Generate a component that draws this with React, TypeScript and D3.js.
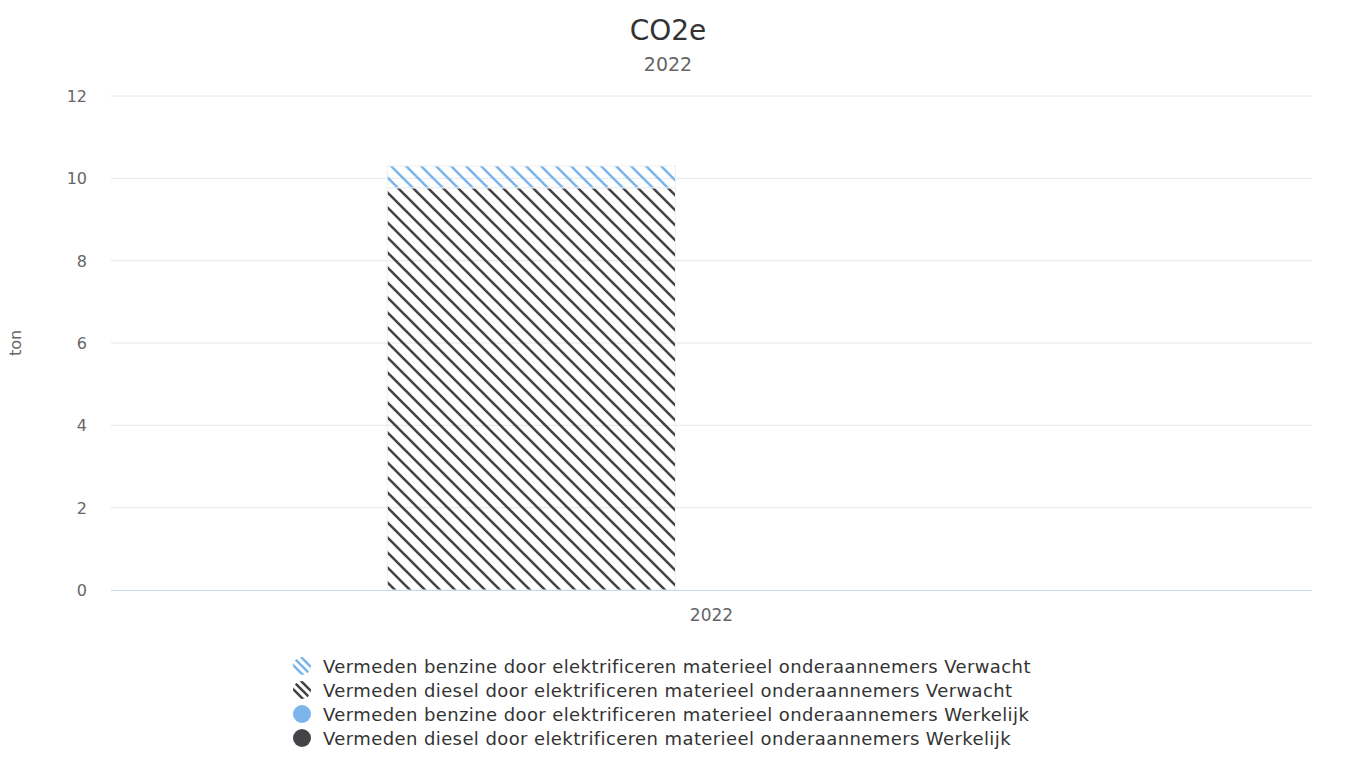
import React from "react";
import * as d3 from "d3";

const categories = ["2022"];
const stacks = ["Verwacht", "Werkelijk"];
const seriesNames = [
  "Vermeden benzine door elektrificeren materieel onderaannemers Verwacht",
  "Vermeden diesel door elektrificeren materieel onderaannemers Verwacht",
  "Vermeden benzine door elektrificeren materieel onderaannemers Werkelijk",
  "Vermeden diesel door elektrificeren materieel onderaannemers Werkelijk",
];
const seriesStack = ["Verwacht", "Verwacht", "Werkelijk", "Werkelijk"];
const seriesColor = ["#7cb5ec", "#434348", "#7cb5ec", "#434348"];
const seriesHatched = [true, true, false, false];
// values per category (2022)
const benzineVerwacht = [0.53];
const dieselVerwacht = [9.77];
const benzineWerkelijk = [0];
const dieselWerkelijk = [0];
const seriesValues = [benzineVerwacht, dieselVerwacht, benzineWerkelijk, dieselWerkelijk];
const yTicks = [0, 2, 4, 6, 8, 10, 12];

const W = 1360;
const H = 758;
const FONT = "'DejaVu Sans', Verdana, sans-serif";

export default function App() {
  const left = 111, right = 1312, top = 96, bottom = 590;
  const x = d3.scaleBand<string>().domain(categories).range([left, right]).paddingInner(0).paddingOuter(0);
  const y = d3.scaleLinear().domain([0, 12]).range([bottom, top]);
  const groupPad = 0.2;
  const inner = d3.scaleBand<string>().domain(stacks)
    .range([0, x.bandwidth() * (1 - 2 * groupPad)]).paddingInner(0.2).paddingOuter(0.1);

  const bars: JSX.Element[] = [];
  categories.forEach((cat, ci) => {
    stacks.forEach((st) => {
      let base = 0;
      const idx = seriesNames.map((_, i) => i).filter((i) => seriesStack[i] === st).reverse();
      idx.forEach((i) => {
        const v = seriesValues[i][ci];
        if (v <= 0) return;
        const x0 = (x(cat) as number) + x.bandwidth() * groupPad + (inner(st) as number);
        const y1 = y(base + v);
        const y0 = y(base);
        base += v;
        bars.push(
          <rect key={`${ci}-${i}`} x={x0} y={y1} width={inner.bandwidth()} height={y0 - y1}
            fill={seriesHatched[i] ? `url(#hatch${i})` : seriesColor[i]} stroke="#f0f0f0" strokeWidth={1} />
        );
      });
    });
  });

  const legendX = 302, legendY0 = 666, legendDy = 24;

  return (
    <svg width={W} height={H} style={{ position: "absolute", left: 0, top: 0, fontFamily: FONT }}>
      <defs>
        {seriesColor.map((c, i) => (
          <pattern key={i} id={`hatch${i}`} patternUnits="userSpaceOnUse" width={15} height={15}>
            <path d="M 0 0 L 15 15 M 13.5 -1.5 L 16.5 1.5 M -1.5 13.5 L 1.5 16.5" stroke={c} strokeWidth={2.6} fill="none" />
          </pattern>
        ))}
        {seriesColor.map((c, i) => (
          <pattern key={`l${i}`} id={`lhatch${i}`} patternUnits="userSpaceOnUse" width={8} height={8}>
            <path d="M 0 0 L 8 8 M 7 -1 L 9 1 M -1 7 L 1 9" stroke={c} strokeWidth={2.6} fill="none" />
          </pattern>
        ))}
      </defs>
      <rect x={0} y={0} width={W} height={H} fill="#ffffff" />
      <text x={668} y={40} textAnchor="middle" fontSize={28} fill="#333333">CO2e</text>
      <text x={668} y={71} textAnchor="middle" fontSize={19} fill="#666666">2022</text>

      {yTicks.map((t) => (
        <g key={t}>
          {t !== 0 && <line x1={left} x2={right} y1={y(t)} y2={y(t)} stroke="#e6e6e6" strokeWidth={1} />}
          <text x={87} y={y(t) + 6} textAnchor="end" fontSize={16} fill="#666666">{t}</text>
        </g>
      ))}
      <text transform={`translate(21, ${(top + bottom) / 2}) rotate(-90)`} textAnchor="middle" fontSize={16} fill="#666666">ton</text>

      {bars}
      <line x1={left} x2={right} y1={bottom + 0.5} y2={bottom + 0.5} stroke="#ccd6eb" strokeWidth={1} />
      {categories.map((c) => (
        <text key={c} x={(x(c) as number) + x.bandwidth() / 2} y={621} textAnchor="middle" fontSize={17} fill="#666666">{c}</text>
      ))}

      {seriesNames.map((n, i) => (
        <g key={n} transform={`translate(${legendX}, ${legendY0 + i * legendDy})`}>
          <circle cx={0} cy={0} r={9} fill={seriesHatched[i] ? `url(#lhatch${i})` : seriesColor[i]} />
          <text x={21} y={6.5} fontSize={18} letterSpacing={0.4} fill="#333333">{n}</text>
        </g>
      ))}
    </svg>
  );
}
